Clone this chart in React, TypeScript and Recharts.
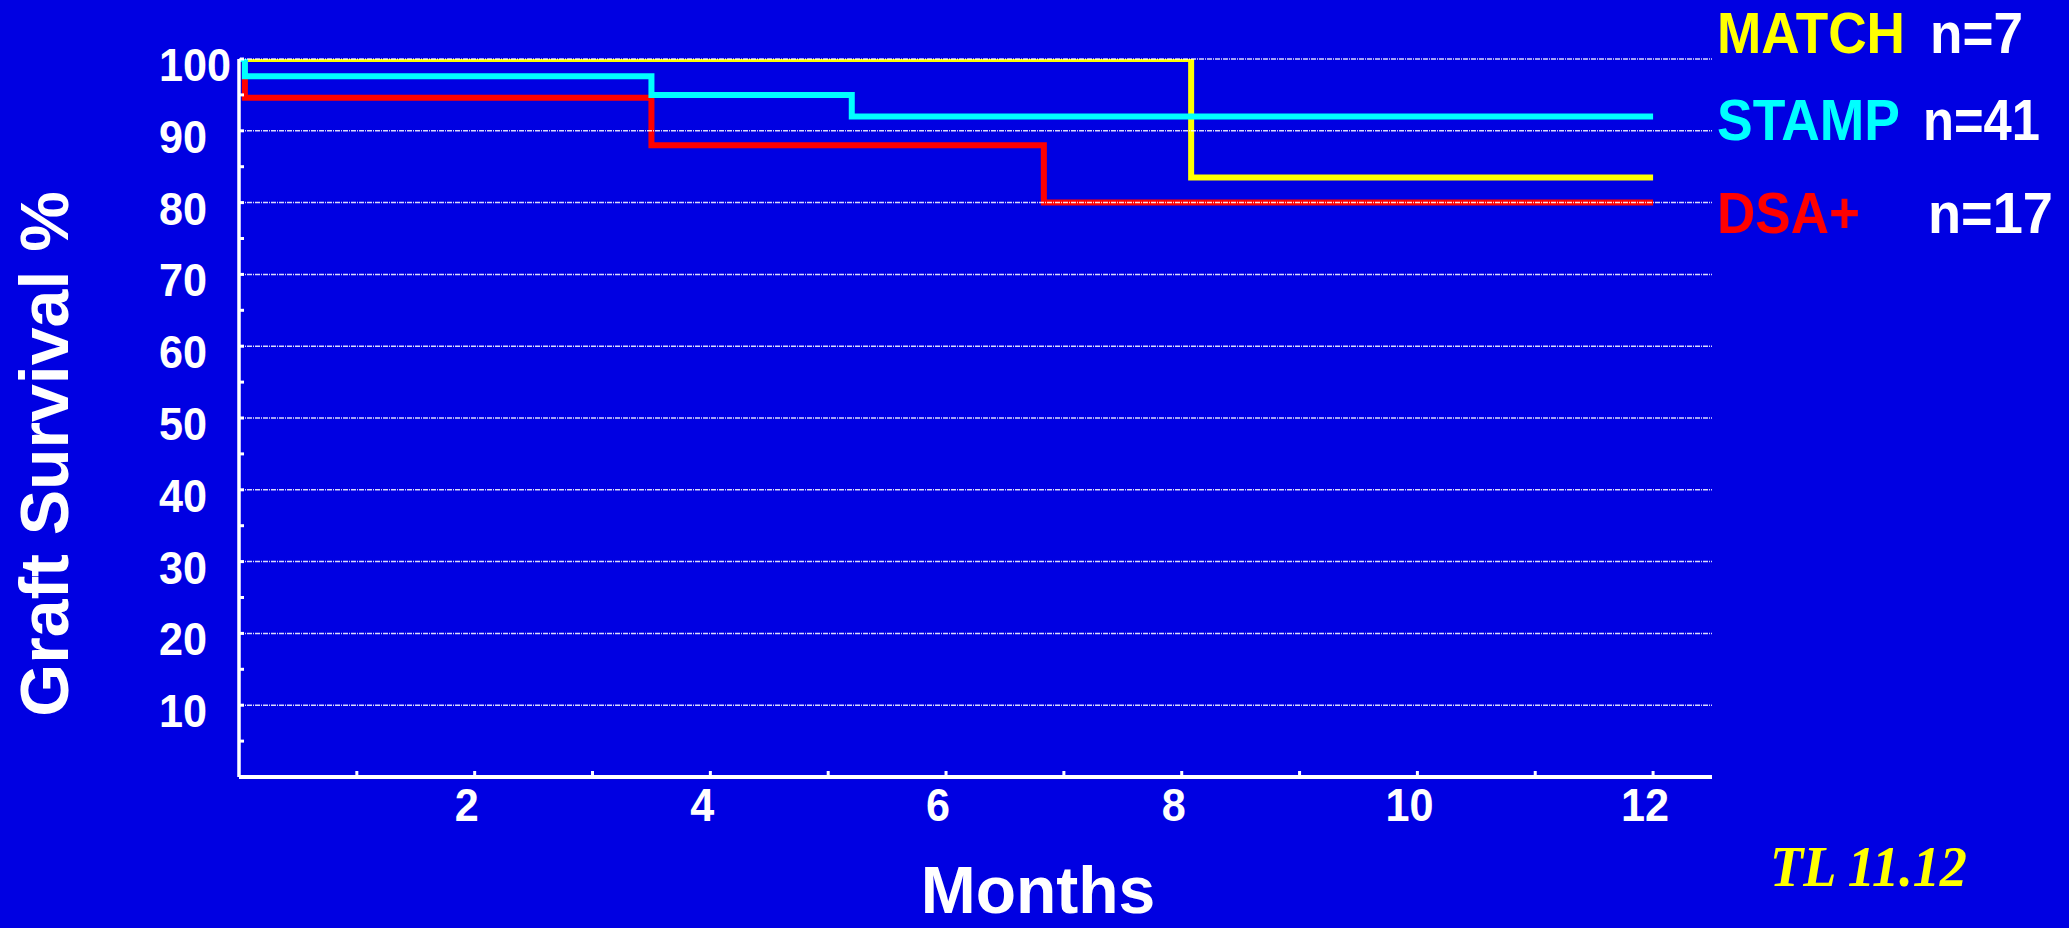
import React from 'react';
import { LineChart, Line, XAxis, YAxis, ReferenceLine, Legend, Label } from 'recharts';

// ---- data ----
const matchMonths = [0, 8.08, 12];
const matchSurvival = [100, 83.5, 83.5];
const stampMonths = [0, 0.05, 3.5, 5.2, 12];
const stampSurvival = [100, 97.6, 95.0, 92.0, 92.0];
const dsaMonths = [0, 0.05, 3.5, 6.83, 12];
const dsaSurvival = [100, 94.6, 88.0, 80.0, 80.0];

const seriesNames = ['MATCH', 'STAMP', 'DSA+'];
const seriesCounts = ['n=7', 'n=41', 'n=17'];
const seriesColors = ['#FFFF00', '#00FFFF', '#FF0000'];

const xTicks = [1, 2, 3, 4, 5, 6, 7, 8, 9, 10, 11, 12];
const xLabelTicks = [2, 4, 6, 8, 10, 12];
const yTicks = [5, 10, 15, 20, 25, 30, 35, 40, 45, 50, 55, 60, 65, 70, 75, 80, 85, 90, 95, 100];
const yLabelTicks = [10, 20, 30, 40, 50, 60, 70, 80, 90, 100];

const xTitle = 'Months';
const yTitle = 'Graft Survival %';
const footNote = 'TL 11.12';

const toRows = (t: number[], v: number[]) => t.map((m, i) => ({ t: m, v: v[i] }));
const matchData = toRows(matchMonths, matchSurvival);
const stampData = toRows(stampMonths, stampSurvival);
const dsaData = toRows(dsaMonths, dsaSurvival);

const BG = '#0000E2';
const FONT = '"Liberation Sans", Arial, sans-serif';
const DIGIT_W = 24;

const XTick = (props: any) => {
  const { x, y, payload } = props;
  const v = payload.value;
  const s = String(v);
  return (
    <g>
      <line x1={x} x2={x} y1={y - 1} y2={y - 6} stroke="#fff" strokeWidth={3} />
      {xLabelTicks.includes(v) && (
        <text
          x={x - 8}
          y={y + 44}
          textAnchor="middle"
          fill="#fff"
          fontFamily={FONT}
          fontWeight="bold"
          fontSize={46}
          textLength={s.length * DIGIT_W}
          lengthAdjust="spacingAndGlyphs"
        >
          {s}
        </text>
      )}
    </g>
  );
};

const YTick = (props: any) => {
  const { x, y, payload } = props;
  const v = payload.value;
  const s = String(v);
  return (
    <g>
      <line x1={x + 1} x2={x + 5} y1={y} y2={y} stroke="#fff" strokeWidth={3} />
      {yLabelTicks.includes(v) && (
        <text
          x={x - 80}
          y={y + 22}
          textAnchor="start"
          fill="#fff"
          fontFamily={FONT}
          fontWeight="bold"
          fontSize={46}
          textLength={s.length * DIGIT_W}
          lengthAdjust="spacingAndGlyphs"
        >
          {s}
        </text>
      )}
    </g>
  );
};

const legendRows = [
  { baseline: 53, nameW: 188, countX: 1930, countW: 93 },
  { baseline: 140, nameW: 183, countX: 1923, countW: 117 },
  { baseline: 233, nameW: 143, countX: 1928, countW: 125 },
];

const LEFT = 1690;

const LegendContent = () => (
  <svg width={2069 - LEFT} height={928} style={{ display: 'block', overflow: 'visible' }}>
    {seriesNames.map((name, i) => (
      <g key={name}>
        <text
          x={1717 - LEFT}
          y={legendRows[i].baseline}
          fill={seriesColors[i]}
          fontFamily={FONT}
          fontWeight="bold"
          fontSize={57}
          textLength={legendRows[i].nameW}
          lengthAdjust="spacingAndGlyphs"
        >
          {name}
        </text>
        <text
          x={legendRows[i].countX - LEFT}
          y={legendRows[i].baseline}
          fill="#fff"
          fontFamily={FONT}
          fontWeight="bold"
          fontSize={57}
          textLength={legendRows[i].countW}
          lengthAdjust="spacingAndGlyphs"
        >
          {seriesCounts[i]}
        </text>
      </g>
    ))}
    <text
      x={1770 - LEFT}
      y={886}
      fill="#FFFF00"
      fontFamily='"Liberation Serif", "Times New Roman", serif'
      fontStyle="italic"
      fontWeight="bold"
      fontSize={58}
      textLength={197}
      lengthAdjust="spacingAndGlyphs"
    >
      {footNote}
    </text>
  </svg>
);

export default function App() {
  return (
    <div style={{ position: 'absolute', left: 0, top: 0, width: 2069, height: 928, background: BG, overflow: 'hidden' }}>
      <LineChart width={2069} height={928} margin={{ top: 59, right: 357, bottom: 0, left: 0 }}>
        <XAxis
          type="number"
          dataKey="t"
          domain={[0, 12.5]}
          ticks={xTicks}
          interval={0}
          allowDataOverflow
          height={151}
          tickSize={0}
          tickMargin={0}
          tickLine={false}
          axisLine={{ stroke: '#fff', strokeWidth: 4 }}
          tick={<XTick />}
        >
          <Label
            content={() => (
              <text x={1038} y={913} textAnchor="middle" fill="#fff" fontFamily={FONT} fontWeight="bold" fontSize={66}>
                {xTitle}
              </text>
            )}
          />
        </XAxis>
        <YAxis
          type="number"
          domain={[0, 100]}
          ticks={yTicks}
          interval={0}
          allowDataOverflow
          width={239}
          tickSize={0}
          tickMargin={0}
          tickLine={false}
          axisLine={{ stroke: '#fff', strokeWidth: 3.5 }}
          tick={<YTick />}
        >
          <Label
            content={() => (
              <text
                x={68}
                y={454}
                transform="rotate(-90 68 454)"
                textAnchor="middle"
                fill="#fff"
                fontFamily={FONT}
                fontWeight="bold"
                fontSize={68}
              >
                {yTitle}
              </text>
            )}
          />
        </YAxis>
        <Legend
          layout="horizontal"
          verticalAlign="middle"
          align="center"
          wrapperStyle={{ left: LEFT, top: 0, width: 2069 - LEFT, height: 928 }}
          content={<LegendContent />}
        />
        <Line
          data={matchData}
          dataKey="v"
          name={seriesNames[0]}
          type="stepAfter"
          stroke={seriesColors[0]}
          strokeWidth={6}
          dot={false}
          activeDot={false}
          isAnimationActive={false}
          strokeLinejoin="miter"
        />
        <Line
          data={dsaData}
          dataKey="v"
          name={seriesNames[2]}
          type="stepAfter"
          stroke={seriesColors[2]}
          strokeWidth={6}
          dot={false}
          activeDot={false}
          isAnimationActive={false}
          strokeLinejoin="miter"
        />
        <Line
          data={stampData}
          dataKey="v"
          name={seriesNames[1]}
          type="stepAfter"
          stroke={seriesColors[1]}
          strokeWidth={6}
          dot={false}
          activeDot={false}
          isAnimationActive={false}
          strokeLinejoin="miter"
        />
        {yLabelTicks.map((g) => (
          <ReferenceLine key={g} y={g} stroke="#fff" strokeWidth={1.5} strokeDasharray="5 1 1 1" strokeOpacity={0.85} />
        ))}
      </LineChart>
    </div>
  );
}
